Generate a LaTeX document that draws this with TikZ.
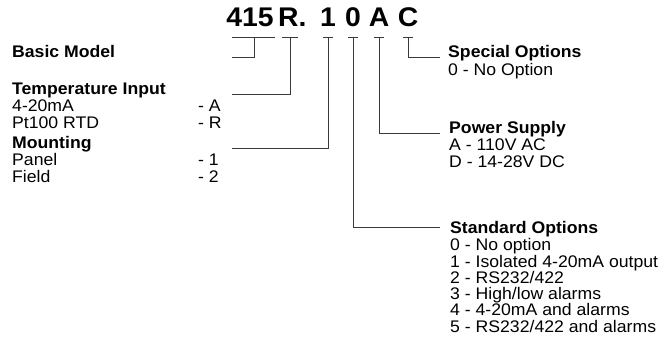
\documentclass[tikz,border=0pt]{standalone}
\usepackage{fontspec}
\setmainfont{Liberation Sans}[FakeStretch=1.05]
\usepackage{tikz}
\usetikzlibrary{positioning,calc}
\definecolor{LeadGray}{HTML}{3A3A3A}

\begin{document}
\begin{tikzpicture}[x=1pt,y=-1pt,
  head/.style={font=\fontsize{16.8}{17}\selectfont\bfseries, inner sep=0pt, anchor=base west},
  item/.style={font=\fontsize{16.8}{17}\selectfont, inner sep=0pt, anchor=base west},
  code/.style={font=\fontsize{27}{27}\selectfont\bfseries, inner sep=0pt, anchor=base},
  lead/.style={draw=LeadGray, line width=0.9pt}]
  \useasboundingbox (0,0) rectangle (668,345);

  % model code
  \node[code] (c415) at (250,27) {415};
  \node[code, anchor=base west] (cR) at (278,27) {R.};
  \node[code] (c1) at (328,27) {1};
  \node[code] (c0) at (353,27) {0};
  \node[code] (cA) at (379,27) {A};
  \node[code] (cC) at (408,27) {C};

  \coordinate (b415) at (254,37);
  \coordinate (bR) at (290,37);
  \coordinate (b1) at (328,37);
  \coordinate (b0) at (353,37);
  \coordinate (bA) at (379,37);
  \coordinate (bC) at (408,37);
  \coordinate (leftEnd) at (232,0);

  \foreach \b/\l/\r in {b415/22/21, bR/8/8, b1/5/5, b0/5/5, bA/5/5, bC/5/5}
    \draw[lead] ([xshift=-\l pt]\b) -- ([xshift=\r pt]\b);

  % left side
  \node[head] (basic) at (12,57) {Basic Model};
  \node[head] (temp) at (12,94) {Temperature Input};
  \node[item] (in4) at (12,111) {4-20mA};
  \node[item] (inA) at (198,111) {- A};
  \node[item] (inPt) at (12,128) {Pt100 RTD};
  \node[item] (inR) at (198,128) {- R};
  \node[head] (mount) at (12,148) {Mounting};
  \node[item] (mPanel) at (12,165) {Panel};
  \node[item] (m1) at (198,165) {- 1};
  \node[item] (mField) at (12,182) {Field};
  \node[item] (m2) at (198,182) {- 2};

  % right side
  \node[head] (special) at (448,57) {Special Options};
  \node[item] (sp0) at (448,75) {0 - No Option};
  \node[head] (power) at (449,133) {Power Supply};
  \node[item] (pwA) at (449,150) {A - 110V AC};
  \node[item] (pwD) at (449,167) {D - 14-28V DC};
  \node[head] (std) at (450,233) {Standard Options};
  \node[item] (st0) at (450,250) {0 - No option};
  \node[item] (st1) at (450,267) {1 - Isolated 4-20mA output};
  \node[item] (st2) at (450,283) {2 - RS232/422};
  \node[item] (st3) at (450,299) {3 - High/low alarms};
  \node[item] (st4) at (450,315) {4 - 4-20mA and alarms};
  \node[item] (st5) at (450,332) {5 - RS232/422 and alarms};

  % leads
  \draw[lead] (b415) |- (basic.base -| leftEnd);
  \draw[lead] (bR) |- (temp.base -| leftEnd);
  \draw[lead] (b1) |- (mount.base -| leftEnd);
  \draw[lead] (b0) |- ([xshift=-10pt,yshift=6pt]std.base west);
  \draw[lead] (bA) |- ([xshift=-9pt]power.base west);
  \draw[lead] (bC) |- ([xshift=-8pt]special.base west);
\end{tikzpicture}
\end{document}
